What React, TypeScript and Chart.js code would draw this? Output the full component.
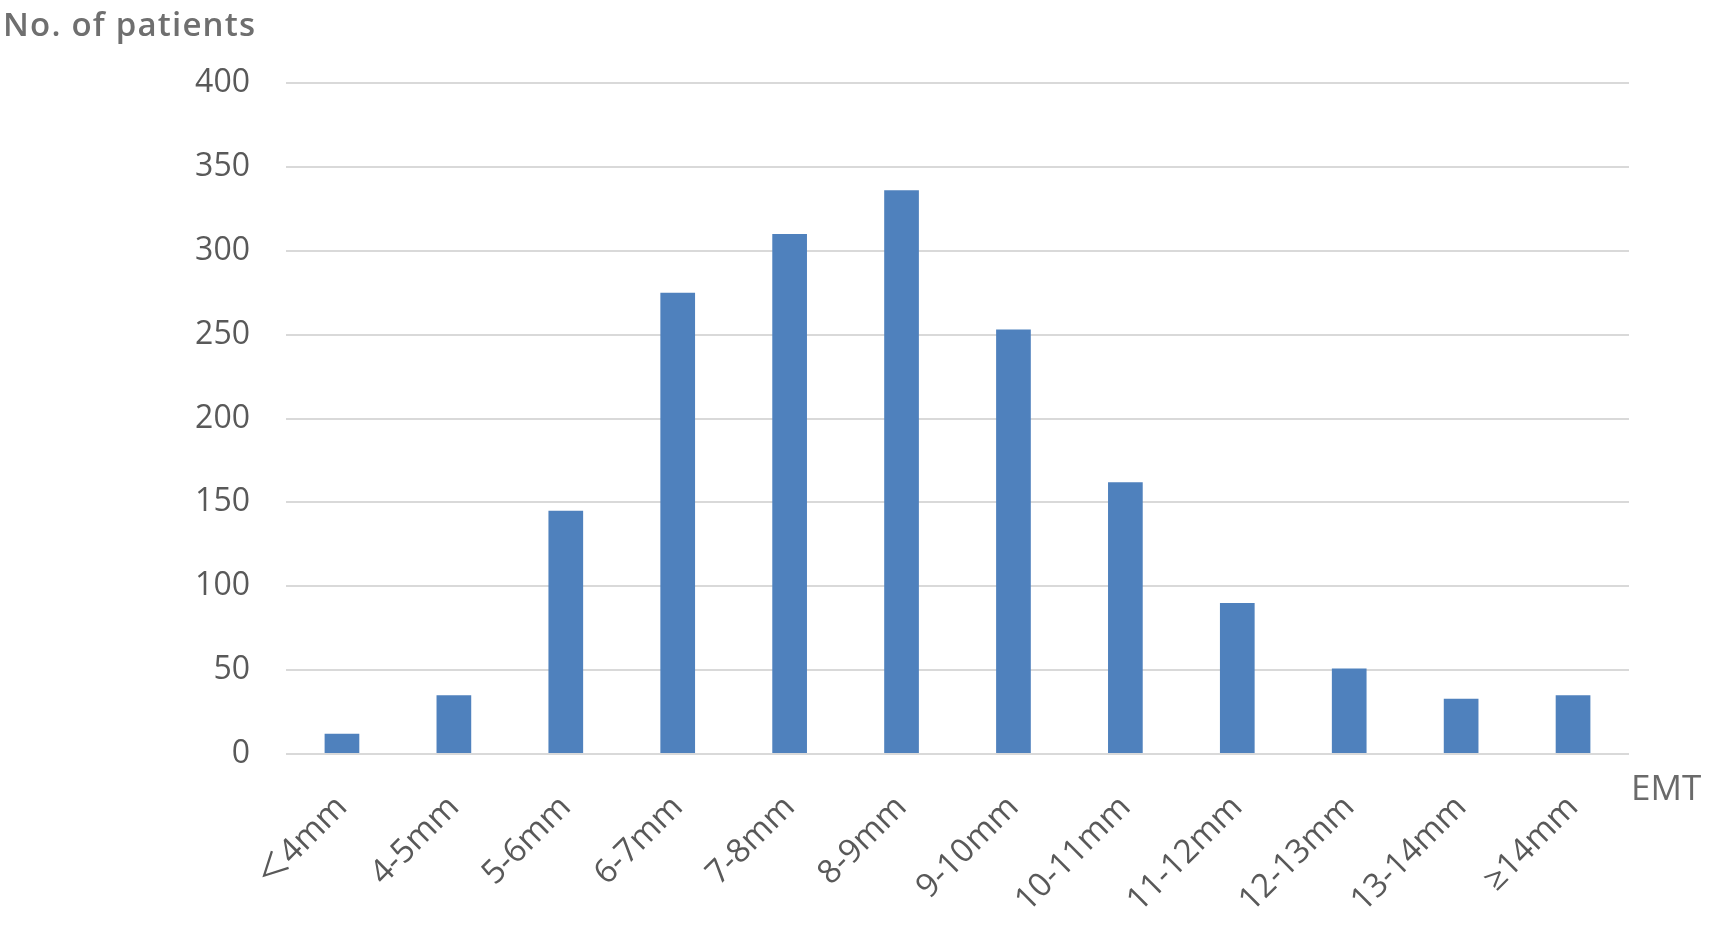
import React, { useEffect, useRef } from "react";
import { Chart, registerables } from "chart.js";

Chart.register(...registerables);

const categories = ["＜4mm", "4-5mm", "5-6mm", "6-7mm", "7-8mm", "8-9mm", "9-10mm", "10-11mm", "11-12mm", "12-13mm", "13-14mm", "≥14mm"];
const patients = [12, 35, 145, 275, 310, 336, 253, 162, 90, 51, 33, 35];
const yTicks = [0, 50, 100, 150, 200, 250, 300, 350, 400];
const yTitle = "No. of patients";
const xTitle = "EMT";

const FONT = "'Open Sans', 'Noto Sans', sans-serif";
const TEXT = "#595959";

const titlesPlugin = {
  id: "titles",
  afterDraw(chart: any) {
    const ctx = chart.ctx;
    const area = chart.chartArea;
    ctx.save();
    ctx.fillStyle = "#6f6f6f";
    ctx.font = `600 33px ${FONT}`;
    ctx.textAlign = "left";
    ctx.textBaseline = "alphabetic";
    (ctx as any).letterSpacing = "1.2px";
    ctx.fillText(yTitle, 3, 36);
    (ctx as any).letterSpacing = "0px";
    ctx.fillStyle = "#6a6a6a";
    ctx.font = `400 35px ${FONT}`;
    ctx.fillText(xTitle, area.right + 2, area.bottom + 46);
    ctx.restore();
  },
};

export default function App() {
  const ref = useRef<HTMLCanvasElement | null>(null);
  useEffect(() => {
    if (!ref.current) return;
    const chart = new Chart(ref.current, {
      type: "bar",
      data: {
        labels: categories,
        datasets: [
          {
            data: patients,
            backgroundColor: "#4F81BD",
            barPercentage: 0.31,
            categoryPercentage: 1,
          },
        ],
      },
      options: {
        animation: false,
        responsive: false,
        devicePixelRatio: 1,
        layout: { padding: { top: 83, right: 81, left: 0, bottom: 0 } },
        plugins: { legend: { display: false }, tooltip: { enabled: false } },
        scales: {
          x: {
            grid: { display: false, drawTicks: false },
            border: { display: false },
            ticks: {
              maxRotation: 45,
              minRotation: 45,
              padding: 34,
              color: TEXT,
              font: { family: "'Open Sans', 'Noto Sans CJK SC', sans-serif", size: 33 },
            },
            afterFit(scale: any) {
              scale.height = 172;
            },
          },
          y: {
            min: 0,
            max: 400,
            afterBuildTicks(scale: any) {
              scale.ticks = yTicks.map((v) => ({ value: v }));
            },
            grid: { color: "#d9d9d9", lineWidth: 2, drawTicks: false },
            border: { display: false },
            ticks: {
              padding: 36,
              color: TEXT,
              font: { family: FONT, size: 32 },
            },
            afterFit(scale: any) {
              scale.width = 286;
            },
          },
        },
      },
      plugins: [titlesPlugin],
    });
    return () => chart.destroy();
  }, []);
  return (
    <div style={{ position: "absolute", left: 0, top: 0, width: 1710, height: 926, background: "#fff" }}>
      <canvas ref={ref} width={1710} height={926} style={{ width: 1710, height: 926, display: "block" }} />
    </div>
  );
}
